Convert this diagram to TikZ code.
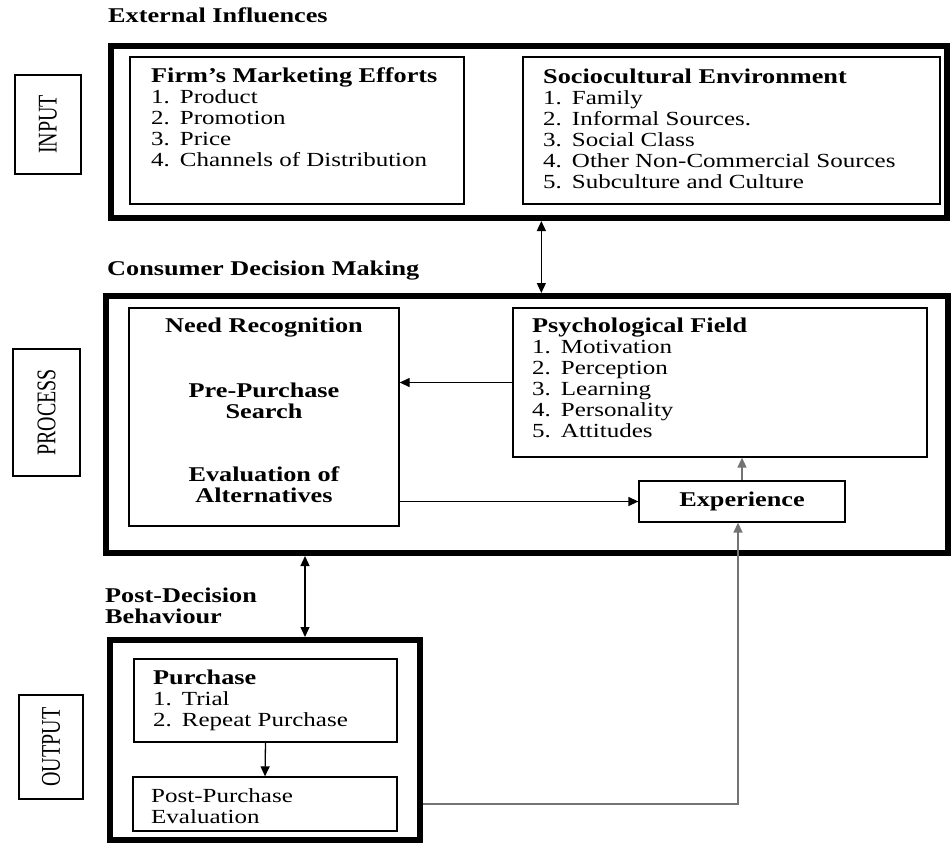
\documentclass[tikz,border=0pt]{standalone}
\usepackage{fontspec}
\usepackage{graphicx}
\setmainfont[FakeStretch=1.25]{Liberation Serif}
\newfontfamily\stagefont{Liberation Serif}
\usetikzlibrary{arrows.meta,calc}

\tikzset{
  every node/.style={font=\fontsize{20}{21}\selectfont},
  bigbox/.style={draw, line width=6pt, inner sep=0pt},
  smallbox/.style={draw, line width=1.3pt, inner sep=0pt},
  stagebox/.style={draw, line width=1.3pt, inner sep=0pt, rotate=90,
    font=\stagefont\fontsize{20}{20}\selectfont},
  listtext/.style={inner sep=0pt, anchor=north west, align=left},
  midtext/.style={inner sep=0pt, anchor=north, align=center,
    font=\fontsize{21}{21}\selectfont\bfseries},
  headtext/.style={inner sep=0pt, anchor=north west, align=left,
    font=\fontsize{21}{21}\selectfont\bfseries},
  link/.style={line width=1.3pt, -{Triangle[length=10pt,width=9pt]}},
  twoway/.style={line width=1.3pt, {Triangle[length=10pt,width=9pt]}-{Triangle[length=10pt,width=9pt]}},
  greylink/.style={link, draw=black!55, line width=1.5pt}
}
\newcommand{\hd}[1]{{\fontsize{21}{21}\selectfont\bfseries #1}}
\newcommand{\itm}[2]{#1.\enskip #2}

\begin{document}
\begin{tikzpicture}[x=1pt, y=-1pt]
  \useasboundingbox (0,0) rectangle (952,843);

  % stage labels
  \node[stagebox, minimum width=99pt, minimum height=66pt] (inlbl) at (48,124.5) {\scalebox{1}[1.35]{INPUT}};
  \node[stagebox, minimum width=127pt, minimum height=67pt] (proclbl) at (46.5,412.5) {\scalebox{1}[1.35]{PROCESS}};
  \node[stagebox, minimum width=104pt, minimum height=64pt] (outlbl) at (51,747) {\scalebox{1}[1.35]{OUTPUT}};

  % section titles
  \node[headtext] (exttitle) at (108,8) {External Influences};
  \node[headtext] (proctitle) at (107,261) {Consumer Decision Making};
  \node[headtext] (posttitle) at (105,588) {Post-Decision\\Behaviour};

  % outer frames
  \node[bigbox, minimum width=836pt, minimum height=171.5pt] (inbox) at (529,132.25) {};
  \node[bigbox, minimum width=842pt, minimum height=257pt] (procbox) at (527,424.5) {};
  \node[bigbox, minimum width=310pt, minimum height=200pt] (outbox) at (265,740) {};

  % input
  \node[smallbox, minimum width=334pt, minimum height=147pt] (firm) at (297,130.5) {};
  \node[listtext] (firmtext) at (151,68) {\hd{Firm's Marketing Efforts}\\
    \itm{1}{Product}\\\itm{2}{Promotion}\\\itm{3}{Price}\\\itm{4}{Channels of Distribution}};
  \node[smallbox, minimum width=417pt, minimum height=147pt] (socio) at (731.5,130.5) {};
  \node[listtext] (sociotext) at (543,69) {\hd{Sociocultural Environment}\\
    \itm{1}{Family}\\\itm{2}{Informal Sources.}\\\itm{3}{Social Class}\\
    \itm{4}{Other Non-Commercial Sources}\\\itm{5}{Subculture and Culture}};

  % process
  \node[smallbox, minimum width=270pt, minimum height=218pt] (need) at (264,417) {};
  \node[midtext] (needtext) at (264,318) {Need Recognition};
  \node[midtext] (searchtext) at (264,383) {Pre-Purchase\\Search};
  \node[midtext] (evaltext) at (264,467) {Evaluation of\\Alternatives};
  \node[smallbox, minimum width=414pt, minimum height=149pt] (psych) at (720,382.5) {};
  \node[listtext] (psychtext) at (532,318) {\hd{Psychological Field}\\
    \itm{1}{Motivation}\\\itm{2}{Perception}\\\itm{3}{Learning}\\
    \itm{4}{Personality}\\\itm{5}{Attitudes}};
  \node[smallbox, minimum width=206pt, minimum height=41pt,
    font=\fontsize{21}{21}\selectfont\bfseries] (exper) at (742,501.5) {Experience};

  % output
  \node[smallbox, minimum width=263pt, minimum height=83pt] (purch) at (265.5,700.5) {};
  \node[listtext] (purchtext) at (153,670) {\hd{Purchase}\\
    \itm{1}{Trial}\\\itm{2}{Repeat Purchase}};
  \node[smallbox, minimum width=264pt, minimum height=54pt] (postp) at (265,804) {};
  \node[listtext] (postptext) at (151,788) {Post-Purchase\\Evaluation};

  % connectors
  \draw[twoway] ([xshift=19pt]socio.south west |- inbox.south) -- ([xshift=19pt]socio.south west |- procbox.north);
  \draw[twoway] ([xshift=40pt]outbox.north |- procbox.south) -- ([xshift=40pt]outbox.north);
  \draw[link] (psych.west) -- (psych.west -| need.east);
  \draw[link] (exper.west -| need.east) -- (exper.west);
  \draw[greylink] (exper.north) -- (exper.north |- psych.south);
  \draw[link] (purch.south) -- (postp.north);
  \draw[greylink] (postp.east -| outbox.east) -| ([xshift=-4pt]exper.south);
\end{tikzpicture}
\end{document}
